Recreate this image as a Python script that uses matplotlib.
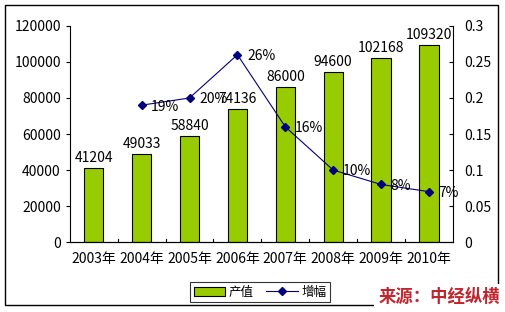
import matplotlib.pyplot as plt
from matplotlib.patches import Rectangle

plt.rcParams['font.family'] = ['Noto Sans CJK SC', 'DejaVu Sans']

# 数据
years = ['2003年', '2004年', '2005年', '2006年', '2007年', '2008年', '2009年', '2010年']
output = [41204, 49033, 58840, 74136, 86000, 94600, 102168, 109320]
growth_years = years[1:]
growth = [0.19, 0.20, 0.26, 0.16, 0.10, 0.08, 0.07]
growth_labels = ['19%', '20%', '26%', '16%', '10%', '8%', '7%']

fig = plt.figure(figsize=(5.06, 3.12), dpi=100)
ax = fig.add_axes([0.138, 0.224, 0.757, 0.693])

x = list(range(len(years)))
bars = ax.bar(x, output, width=0.4, color='#99CC00', edgecolor='black', linewidth=0.8, label='产值')
for xi, v in zip(x, output):
    ax.text(xi, v + 1500, str(v), ha='center', va='bottom', fontsize=10)

ax.set_xlim(-0.5, len(years) - 0.5)
ax.set_ylim(0, 120000)
ax.set_yticks(range(0, 120001, 20000))
ax.set_xticks(x)
ax.set_xticklabels(years, fontsize=10)
ax.tick_params(axis='y', labelsize=10, length=3, direction='out')
ax.tick_params(axis='x', length=0, pad=7)
for b in range(1, len(years)):
    ax.plot([b - 0.5, b - 0.5], [0, 2000], color='black', linewidth=0.8)
ax.spines['top'].set_visible(False)
ax.spines['right'].set_visible(False)

ax2 = ax.twinx()
gx = [years.index(y) for y in growth_years]
line, = ax2.plot(gx, growth, color='#000080', linewidth=0.8, marker='D', markersize=4, label='增幅')
for xi, v, t in zip(gx, growth, growth_labels):
    ax2.text(xi + 0.2, v - 0.002, t, ha='left', va='center', fontsize=10)
ax2.set_ylim(0, 0.3)
ax2.set_yticks([0, 0.05, 0.1, 0.15, 0.2, 0.25, 0.3])
ax2.set_yticklabels(['0', '0.05', '0.1', '0.15', '0.2', '0.25', '0.3'])
ax2.tick_params(axis='y', labelsize=10, length=3, direction='in', pad=8)
ax2.spines['top'].set_visible(False)
ax2.spines['left'].set_visible(False)

leg = fig.legend([bars, line], ['产值', '增幅'], ncol=2, loc='center', bbox_to_anchor=(0.514, 0.064),
                 fontsize=9, frameon=True, fancybox=False, edgecolor='black', handlelength=2.5,
                 borderpad=0.3, columnspacing=1.0, handletextpad=0.3)
leg.get_frame().set_linewidth(0.8)

# 外框
fig.patches.append(Rectangle((5 / 506, 7 / 312), 493 / 506, 300 / 312, transform=fig.transFigure,
                             fill=False, edgecolor='black', linewidth=1.0))
fig.text(0.988, 0.047, '来源：中经纵横', ha='right', va='center', fontsize=12.5, color='#C0262D',
         fontweight='bold', style='italic',
         bbox=dict(facecolor='white', edgecolor='none', pad=3))

fig.savefig('out.png', dpi=100)
